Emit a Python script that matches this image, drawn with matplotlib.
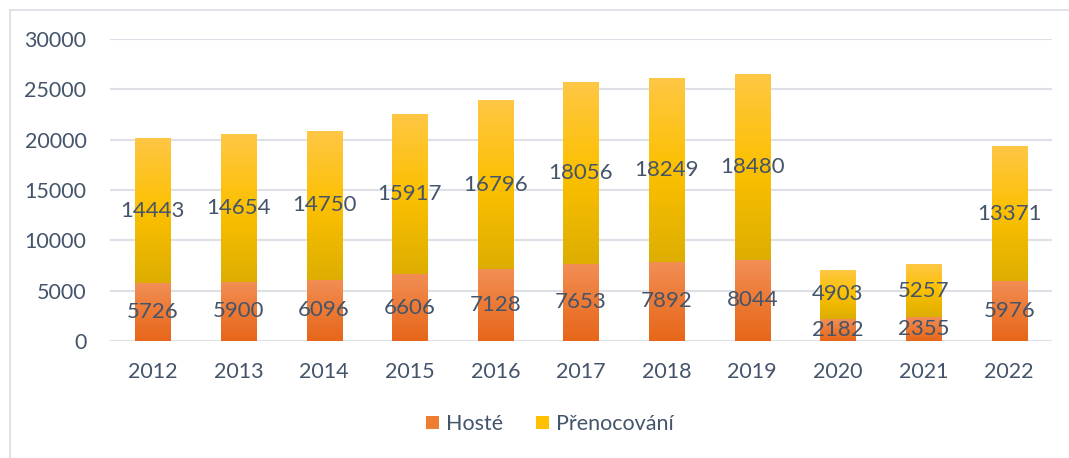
import numpy as np
import matplotlib.pyplot as plt
from matplotlib.colors import LinearSegmentedColormap
from matplotlib.patches import Patch
from matplotlib.lines import Line2D

years = ['2012', '2013', '2014', '2015', '2016', '2017', '2018', '2019', '2020', '2021', '2022']
hoste = [5726, 5900, 6096, 6606, 7128, 7653, 7892, 8044, 2182, 2355, 5976]
prenocovani = [14443, 14654, 14750, 15917, 16796, 18056, 18249, 18480, 4903, 5257, 13371]

text_color = '#44546A'
grid_color = '#DDE1E7'

plt.rcParams['font.family'] = ['Lato', 'DejaVu Sans']

# gradients, top -> bottom
cmap_hoste = LinearSegmentedColormap.from_list('hoste', ['#F28E55', '#EC7A35', '#E7661A'])
cmap_pren = LinearSegmentedColormap.from_list('pren', ['#FFC745', '#FCC000', '#DDAE00'])


def gradient_fill(ax, bars, cmap):
    grad = np.linspace(0, 1, 256).reshape(-1, 1)
    for bar in bars:
        x0, y0 = bar.get_x(), bar.get_y()
        w, h = bar.get_width(), bar.get_height()
        im = ax.imshow(grad, cmap=cmap, aspect='auto', origin='upper',
                       extent=(x0, x0 + w, y0, y0 + h), zorder=2)
        im.set_clip_path(bar)
        bar.set_facecolor('none')


fig = plt.figure(figsize=(10.69, 4.58), dpi=100)
ax = fig.add_axes([0.1029, 0.2555, 0.8812, 0.6593])

x = np.arange(len(years))
width = 0.41
b1 = ax.bar(x, hoste, width, color='#ED7D31', linewidth=0, zorder=2)
b2 = ax.bar(x, prenocovani, width, bottom=hoste, color='#FFC000', linewidth=0, zorder=2)
gradient_fill(ax, b1, cmap_hoste)
gradient_fill(ax, b2, cmap_pren)

for i in range(len(years)):
    ax.text(x[i], hoste[i] / 2, str(hoste[i]), ha='center', va='center',
            fontsize=16, color=text_color, zorder=5)
    ax.text(x[i], hoste[i] + prenocovani[i] / 2, str(prenocovani[i]), ha='center',
            va='center', fontsize=16, color=text_color, zorder=5)

ax.set_xlim(-0.5, len(years) - 0.5)
ax.set_ylim(0, 30000)
ax.set_yticks(np.arange(0, 30001, 5000))
ax.set_xticks(x)
ax.set_xticklabels(years)
ax.yaxis.grid(True, color=grid_color, linewidth=1.5, zorder=0)
ax.set_axisbelow(True)
for s in ax.spines.values():
    s.set_visible(False)
ax.tick_params(axis='both', length=0, labelsize=15.5, colors=text_color)
ax.tick_params(axis='y', pad=17)
ax.tick_params(axis='x', pad=15)

handles = [Patch(facecolor='#ED7D31', label='Hosté'),
           Patch(facecolor='#FFC000', label='Přenocování')]
fig.legend(handles=handles, loc='center', bbox_to_anchor=(0.5145, 0.074), ncol=2,
           frameon=False, fontsize=15.5, labelcolor=text_color,
           handlelength=0.6, handleheight=0.6, handletextpad=0.35, columnspacing=1.5)

# chart area border (top and left edges visible)
fig.add_artist(Line2D([9.5 / 1069, 1.0], [1 - 9.5 / 458, 1 - 9.5 / 458],
                      transform=fig.transFigure, color='#D9DDE3', linewidth=1.2))
fig.add_artist(Line2D([9.5 / 1069, 9.5 / 1069], [0, 1 - 9.5 / 458],
                      transform=fig.transFigure, color='#D9DDE3', linewidth=1.2))

fig.savefig('out.png', dpi=100)
